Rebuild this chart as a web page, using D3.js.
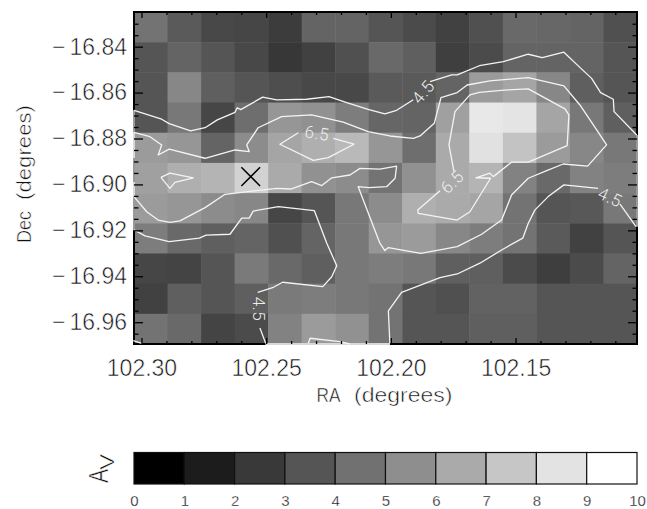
<!DOCTYPE html>
<html><head><meta charset="utf-8">
<script src="https://d3js.org/d3.v7.min.js"></script>
<style>
html,body{margin:0;padding:0;background:#fff}
svg{display:block}
text{font-family:"Liberation Sans",sans-serif;font-weight:400;fill:#111;stroke:#fff;stroke-width:.55px;opacity:.995}
text.clab{font-family:"Roboto","Liberation Sans",sans-serif;font-weight:300;stroke:none;fill:#f0f0f0}
</style></head><body><div id="c"></div>
<script>
// Av per map pixel, top row first, left column = highest RA
const avRow0=[4.51,3.53,2.82,2.75,2.35,3.92,3.92,3.33,2.94,2.55,3.14,4.12,4.04,3.92,3.14];
const avRow1=[3.33,3.92,3.33,2.82,2.16,2.55,3.14,4.12,3.73,2.47,2.94,3.92,3.92,3.92,3.33];
const avRow2=[3.33,5.29,3.73,3.33,3.06,2.82,2.82,3.53,3.53,3.92,6.08,6.47,5.29,3.73,3.33];
const avRow3=[3.33,4.71,2.75,4.31,5.88,5.69,4.90,4.00,3.92,6.27,9.10,8.94,6.47,4.71,3.73];
const avRow4=[6.08,5.88,3.92,5.49,6.47,6.86,7.25,5.88,4.31,6.67,8.82,7.65,6.08,5.29,4.71];
const avRow5=[6.27,6.86,7.06,8.24,6.67,5.69,5.49,4.51,5.69,6.67,7.06,5.10,4.12,5.10,4.90];
const avRow6=[6.08,5.88,5.49,5.29,2.75,3.33,4.71,5.49,6.86,6.67,6.47,4.51,3.33,3.45,4.71];
const avRow7=[4.90,4.12,3.73,3.92,3.14,3.92,4.71,5.88,6.08,5.29,4.90,4.51,3.53,2.55,3.33];
const avRow8=[2.75,2.67,3.33,4.78,4.12,3.73,4.71,4.90,4.71,3.73,3.73,2.94,2.43,2.94,3.92];
const avRow9=[2.55,3.73,3.33,3.73,4.78,4.90,4.71,4.51,3.33,3.14,3.84,3.84,3.33,3.33,3.33];
const avRow10=[4.51,4.12,2.67,2.94,5.10,6.08,5.69,4.51,3.33,3.33,3.73,3.73,3.33,3.33,3.33];
const avRows=[avRow0,avRow1,avRow2,avRow3,avRow4,avRow5,avRow6,avRow7,avRow8,avRow9,avRow10];

const raTicks=[102.30,102.25,102.20,102.15];
const decTicks=[-16.84,-16.86,-16.88,-16.90,-16.92,-16.94,-16.96];
const barTicks=[0,1,2,3,4,5,6,7,8,9,10];
const raLeft=102.303, raRight=102.1013, decTop=-16.8249, decBottom=-16.9695;

// contours, [RA, Dec]
const c45a=[[102.3030,-16.8677],[102.2919,-16.8716],[102.2889,-16.8735],[102.2803,-16.8767],[102.2745,-16.8753],[102.2696,-16.8719],[102.2625,-16.8686],[102.2616,-16.8666],[102.2602,-16.8674],[102.2514,-16.8620],[102.2458,-16.8632],[102.2338,-16.8629],[102.2248,-16.8618],[102.2177,-16.8644],[102.2088,-16.8674],[102.2024,-16.8693],[102.1977,-16.8677],[102.1910,-16.8631]];
const c45b=[[102.1843,-16.8552],[102.1756,-16.8523],[102.1734,-16.8523],[102.1645,-16.8483],[102.1549,-16.8465],[102.1449,-16.8433],[102.1393,-16.8448],[102.1306,-16.8424],[102.1255,-16.8477],[102.1195,-16.8538],[102.1159,-16.8600],[102.1108,-16.8629],[102.1105,-16.8683],[102.1014,-16.8785]];
const c45c=[[102.1017,-16.9184],[102.1081,-16.9086]];
const c45d=[[102.1169,-16.9017],[102.1306,-16.9002],[102.1369,-16.9053],[102.1422,-16.9111],[102.1449,-16.9169],[102.1471,-16.9234],[102.1549,-16.9281],[102.1643,-16.9343],[102.1734,-16.9390],[102.1803,-16.9406],[102.1957,-16.9470],[102.2010,-16.9551],[102.2004,-16.9692]];
const c45e=[[102.2502,-16.9692],[102.2525,-16.9625]];
const c45f=[[102.2534,-16.9470],[102.2471,-16.9448],[102.2434,-16.9426],[102.2273,-16.9445],[102.2237,-16.9402],[102.2217,-16.9354],[102.2257,-16.9256],[102.2307,-16.9114],[102.2451,-16.9097],[102.2552,-16.9116],[102.2568,-16.9147],[102.2598,-16.9147],[102.2645,-16.9217],[102.2741,-16.9221],[102.2768,-16.9234],[102.2889,-16.9249],[102.2986,-16.9224],[102.3030,-16.9198]];
const c55a=[[102.3030,-16.8773],[102.2966,-16.8792],[102.2919,-16.8828],[102.2933,-16.8872],[102.2889,-16.8846],[102.2745,-16.8886],[102.2625,-16.8850],[102.2568,-16.8857],[102.2578,-16.8828],[102.2532,-16.8753],[102.2438,-16.8705],[102.2318,-16.8697],[102.2191,-16.8729],[102.2091,-16.8770],[102.2004,-16.8789],[102.1910,-16.8799],[102.1883,-16.8789],[102.1826,-16.8734],[102.1799,-16.8622],[102.1734,-16.8600],[102.1694,-16.8567],[102.1603,-16.8549],[102.1449,-16.8535],[102.1306,-16.8571],[102.1242,-16.8654],[102.1188,-16.8741],[102.1135,-16.8828],[102.1211,-16.8920],[102.1309,-16.8911],[102.1375,-16.8940],[102.1449,-16.8973],[102.1516,-16.9046],[102.1556,-16.9155],[102.1636,-16.9217],[102.1734,-16.9271],[102.1880,-16.9300],[102.2010,-16.9275],[102.2024,-16.9288],[102.2044,-16.9256],[102.2131,-16.9010],[102.2088,-16.9014],[102.2017,-16.9010],[102.1983,-16.8973],[102.1977,-16.8920],[102.2044,-16.8933],[102.2124,-16.8930],[102.2164,-16.8959],[102.2237,-16.8971],[102.2277,-16.9005],[102.2318,-16.8988],[102.2401,-16.9020],[102.2458,-16.9017],[102.2665,-16.9043],[102.2745,-16.9101],[102.2846,-16.9159],[102.2886,-16.9165],[102.2933,-16.9155],[102.2979,-16.9119],[102.3030,-16.9053]];
const c55b=[[102.3033,-16.9680],[102.2999,-16.9692]];
const c55c=[[102.2331,-16.9692],[102.2324,-16.9670],[102.2204,-16.9685],[102.2164,-16.9695]];
const c65a=[[102.2922,-16.8969],[102.2886,-16.8951],[102.2792,-16.8971],[102.2866,-16.8991],[102.2886,-16.9017],[102.2922,-16.8969]];
const c65b=[[102.2231,-16.8799],[102.2148,-16.8825],[102.2251,-16.8883],[102.2311,-16.8895],[102.2445,-16.8825],[102.2371,-16.8775]];
const c65c=[[102.1747,-16.8944],[102.1767,-16.8828],[102.1743,-16.8683],[102.1683,-16.8610],[102.1645,-16.8599],[102.1546,-16.8589],[102.1449,-16.8584],[102.1302,-16.8671],[102.1286,-16.8697],[102.1293,-16.8831],[102.1449,-16.8903],[102.1516,-16.8903],[102.1589,-16.8966],[102.1603,-16.8951],[102.1659,-16.8971],[102.1600,-16.8973],[102.1683,-16.9119],[102.1734,-16.9155],[102.1890,-16.9126],[102.1892,-16.9111],[102.1803,-16.9028]];
const contourLines=[c45a,c45b,c45c,c45d,c45e,c45f,c55a,c55b,c55c,c65a,c65b,c65c];
const contourLabelText=["4.5","6.5","6.5","4.5","4.5"];
const contourLabelRa=[102.1871,102.2296,102.1755,102.1121,102.2529];
const contourLabelDec=[-16.8597,-16.8776,-16.8989,-16.9055,-16.9542];
const contourLabelAngle=[-50,8,-45,25,90];
// border stretches where the 4.5 / 5.5 contours run along the map edge
const edgeFaint=[[[raLeft,-16.8677],[raLeft,-16.9198]],[[raRight,-16.8785],[raRight,-16.9184]],[[102.2502,decBottom],[102.2004,decBottom]]];
const edgeBright=[[[raLeft,-16.8773],[raLeft,-16.8885]],[[raLeft,-16.8989],[raLeft,-16.9053]],[[102.2502,decBottom],[102.2004,decBottom]]];
const source=[[102.2562,-16.8966]];

const W=647,H=509, L=134,R=637,T=12,B=344, barT=452.5, barB=484;
const svg=d3.select("#c").append("svg").attr("width",W).attr("height",H);
const x=d3.scaleLinear([raLeft,raRight],[L,R]);
const y=d3.scaleLinear([decTop,decBottom],[T,B]);
const grey=d3.scaleLinear([0,10],[0,255]).clamp(true);
const col=v=>{const g=Math.round(grey(v));return `rgb(${g},${g},${g})`};
const cx=d3.scaleBand(d3.range(15),[L,R]);
const cy=d3.scaleBand(d3.range(11),[T,B]);

svg.append("g").selectAll("g").data(avRows).join("g").each(function(r,j){
  d3.select(this).selectAll("rect").data(r).join("rect")
    .attr("x",(d,i)=>cx(i)).attr("y",cy(j)).attr("width",cx.bandwidth()+.5).attr("height",cy.bandwidth()+.5)
    .attr("fill",d=>col(d));
});

const line=d3.line().x(d=>x(d[0])).y(d=>y(d[1]));
// frame
svg.append("rect").attr("x",L).attr("y",T).attr("width",R-L).attr("height",B-T).attr("fill","none").attr("stroke","#000").attr("stroke-width",2);
svg.append("g").selectAll("path").data(edgeFaint).join("path").attr("d",line).attr("fill","none").attr("stroke","#9a9a9a").attr("stroke-width",2);
svg.append("g").selectAll("path").data(edgeBright).join("path").attr("d",line).attr("fill","none").attr("stroke","#d8d8d8").attr("stroke-width",2);

svg.append("g").selectAll("path").data(contourLines).join("path").attr("d",line)
  .attr("fill","none").attr("stroke","#f4f4f4").attr("stroke-width",1.3).attr("stroke-linejoin","round");

svg.append("g").selectAll("text").data(contourLabelText).join("text").attr("class","clab")
  .attr("transform",(d,i)=>`translate(${x(contourLabelRa[i])},${y(contourLabelDec[i])}) rotate(${contourLabelAngle[i]})`)
  .attr("text-anchor","middle").attr("dy","0.36em").attr("font-size",17).style("letter-spacing","0.5px")
  .text(d=>d);

// source marker
svg.append("g").selectAll("path").data(source).join("path")
  .attr("transform",d=>`translate(${x(d[0])},${y(d[1])})`)
  .attr("d",d3.symbol(d3.symbolTimes,230)).attr("fill","none").attr("stroke","#000").attr("stroke-width",1.5);

// axes
const minorStep=(a,b,s)=>d3.range(Math.round((b-a)/s)+1).map(i=>a+i*s);
const raMinor=minorStep(102.11,102.30,0.01).filter(v=>!raTicks.some(t=>Math.abs(t-v)<1e-6));
const decMinor=minorStep(-16.965,-16.83,0.005).filter(v=>!decTicks.some(t=>Math.abs(t-v)<1e-6));
function axis(gen,tx,ty,vals,size,fmt,pad,fs){
  const g=svg.append("g").attr("transform",`translate(${tx},${ty})`)
    .call(gen.tickValues(vals).tickSize(size).tickPadding(pad).tickFormat(fmt||""));
  g.select(".domain").remove();
  g.selectAll("line").attr("stroke","#000").attr("stroke-width",1.3);
  g.selectAll("text").attr("font-size",fs||23);
  g.attr("font-family",null);
  return g;
}
const f2=d3.format(".2f");
axis(d3.axisBottom(x),0,B,raTicks,-6,f2,16);
axis(d3.axisBottom(x),0,B,raMinor,-3,null,0);
axis(d3.axisTop(x),0,T,raTicks,-6,null,0);
axis(d3.axisTop(x),0,T,raMinor,-3,null,0);
const yg=axis(d3.axisLeft(y),L,0,decTicks,-9,f2,7);
// the minus sign sits a little apart from the digits
yg.selectAll("text").each(function(){
  const s=d3.select(this), t=s.text();
  s.text(null);
  s.append("tspan").text(t.slice(0,1));
  s.append("tspan").attr("dx",4).text(t.slice(1));
});
axis(d3.axisLeft(y),L,0,decMinor,-4.5,null,0);
axis(d3.axisRight(y),R,0,decTicks,-9,null,0);
axis(d3.axisRight(y),R,0,decMinor,-4.5,null,0);

// titles: word widths follow the reference's wide vector lettering
function word(parent,t,len){
  return parent.append("text").attr("font-size",21).attr("textLength",len).attr("lengthAdjust","spacingAndGlyphs").text(t);
}
word(svg,"RA",24).attr("x",316.5).attr("y",402);
word(svg,"(degrees)",98.5).attr("x",354).attr("y",402);
word(svg,"Dec",32).attr("transform","translate(31,243) rotate(-90)");
word(svg,"(degrees)",95).attr("transform","translate(31,200) rotate(-90)");

// colour bar
const bx=d3.scaleLinear([0,10],[L,R]);
const bins=d3.range(10);
svg.append("g").selectAll("rect").data(bins).join("rect")
  .attr("x",d=>bx(d)).attr("y",barT).attr("width",d=>bx(d+1)-bx(d)).attr("height",barB-barT)
  .attr("fill",d=>col(d*10/9)).attr("stroke","#111").attr("stroke-width",1.2);
const bg=svg.append("g").attr("transform",`translate(0,${barB})`)
  .call(d3.axisBottom(bx).tickValues(barTicks).tickSize(0).tickPadding(11).tickFormat(d3.format("d")));
bg.select(".domain").remove();
bg.selectAll("text").attr("font-size",15).style("stroke-width",".3px");
bg.attr("font-family",null);

svg.append("text").attr("transform","translate(108,483) rotate(-90) scale(.75,1)").attr("font-size",28).text("A");
svg.append("text").attr("transform","translate(114,470) rotate(-90) scale(1.15,1)").attr("font-size",21).text("V");
</script></body></html>
